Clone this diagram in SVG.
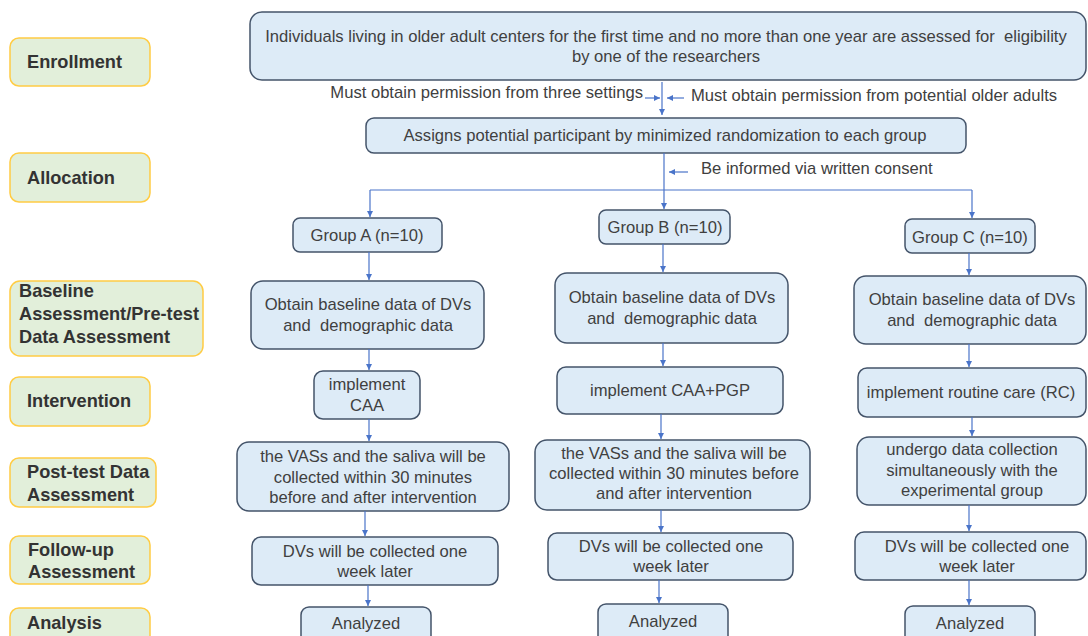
<svg xmlns="http://www.w3.org/2000/svg" width="1088" height="636" viewBox="0 0 1088 636">
<defs>
<style>
.lab rect{fill:#E2EFDA;stroke:#FFCC44;stroke-width:1.5}
.lab text{font-family:"Liberation Sans",Arial,sans-serif;font-weight:bold;font-size:18.2px;fill:#333333}
.node rect{fill:#DDEBF7;stroke:#44546A;stroke-width:1.5}
text{font-family:"Liberation Sans",Arial,sans-serif;font-size:16.6px;fill:#404040;white-space:pre}
.node text{text-anchor:middle}
.conn path{fill:none;stroke:#4A74C9;stroke-width:1.2}
</style>
<marker id="ah" markerUnits="userSpaceOnUse" markerWidth="7" markerHeight="6" refX="6" refY="3" orient="auto">
<path d="M0,0 L6,3 L0,6 z" fill="#4A74C9"/>
</marker>
</defs>
<rect width="1088" height="636" fill="#FFFFFF"/>

<g id="label-enrollment" class="lab"><rect x="10" y="38" width="140" height="48" rx="9"/><text x="27" y="68">Enrollment</text></g>
<g id="label-allocation" class="lab"><rect x="10" y="153" width="140" height="49" rx="9"/><text x="27" y="184">Allocation</text></g>
<g id="label-baseline" class="lab"><rect x="10" y="281" width="193" height="75" rx="10"/><text x="19" y="297">Baseline</text><text x="19" y="320">Assessment/Pre-test</text><text x="19" y="343">Data Assessment</text></g>
<g id="label-intervention" class="lab"><rect x="10" y="377" width="140" height="49" rx="9"/><text x="27" y="407">Intervention</text></g>
<g id="label-posttest" class="lab"><rect x="10" y="458" width="146" height="49" rx="9"/><text x="27" y="478">Post-test Data</text><text x="27" y="501">Assessment</text></g>
<g id="label-followup" class="lab"><rect x="10" y="536" width="140" height="48" rx="9"/><text x="28" y="556">Follow-up</text><text x="28" y="578">Assessment</text></g>
<g id="label-analysis" class="lab"><rect x="10" y="608" width="140" height="40" rx="9"/><text x="27" y="629">Analysis</text></g>

<g id="n-enroll" class="node"><rect x="250" y="12" width="836" height="68" rx="12"/><text x="666" y="42">Individuals living in older adult centers for the first time and no more than one year are assessed for  eligibility</text><text x="666" y="62">by one of the researchers</text></g>
<g id="n-assign" class="node"><rect x="366" y="118" width="600" height="35" rx="8"/><text x="665" y="141">Assigns potential participant by minimized randomization to each group</text></g>

<g id="n-groupA" class="node"><rect x="293" y="218" width="149" height="34" rx="7"/><text x="367" y="241">Group A (n=10)</text></g>
<g id="n-groupB" class="node"><rect x="599" y="210" width="131" height="34" rx="7"/><text x="665" y="233">Group B (n=10)</text></g>
<g id="n-groupC" class="node"><rect x="905" y="219" width="130" height="34" rx="7"/><text x="970" y="243">Group C (n=10)</text></g>

<g id="n-baseA" class="node"><rect x="251" y="281" width="233" height="68" rx="12"/><text x="368" y="310">Obtain baseline data of DVs</text><text x="368" y="331">and  demographic data</text></g>
<g id="n-baseB" class="node"><rect x="555" y="273" width="233" height="70" rx="12"/><text x="672" y="303">Obtain baseline data of DVs</text><text x="672" y="324">and  demographic data</text></g>
<g id="n-baseC" class="node"><rect x="854" y="276" width="232" height="68" rx="12"/><text x="972" y="305">Obtain baseline data of DVs</text><text x="972" y="326">and  demographic data</text></g>

<g id="n-intA" class="node"><rect x="314" y="371" width="106" height="48" rx="9"/><text x="367" y="390">implement</text><text x="367" y="411">CAA</text></g>
<g id="n-intB" class="node"><rect x="557" y="367" width="226" height="47" rx="9"/><text x="670" y="396">implement CAA+PGP</text></g>
<g id="n-intC" class="node"><rect x="858" y="368" width="228" height="49" rx="9"/><text x="971" y="398">implement routine care (RC)</text></g>

<g id="n-postA" class="node"><rect x="237" y="442" width="272" height="69" rx="12"/><text x="373" y="462">the VASs and the saliva will be</text><text x="373" y="483">collected within 30 minutes</text><text x="373" y="503">before and after intervention</text></g>
<g id="n-postB" class="node"><rect x="535" y="440" width="275" height="70" rx="12"/><text x="674" y="459">the VASs and the saliva will be</text><text x="674" y="479">collected within 30 minutes before</text><text x="674" y="499">and after intervention</text></g>
<g id="n-postC" class="node"><rect x="857" y="437" width="229" height="68" rx="12"/><text x="972" y="455">undergo data collection</text><text x="972" y="476">simultaneously with the</text><text x="972" y="496">experimental group</text></g>

<g id="n-fuA" class="node"><rect x="252" y="537" width="246" height="48" rx="9"/><text x="375" y="557">DVs will be collected one</text><text x="375" y="577">week later</text></g>
<g id="n-fuB" class="node"><rect x="548" y="533" width="245" height="47" rx="9"/><text x="671" y="552">DVs will be collected one</text><text x="671" y="572">week later</text></g>
<g id="n-fuC" class="node"><rect x="855" y="532" width="231" height="48" rx="9"/><text x="977" y="552">DVs will be collected one</text><text x="977" y="572">week later</text></g>

<g id="n-anA" class="node"><rect x="301" y="607" width="130" height="40" rx="8"/><text x="366" y="629">Analyzed</text></g>
<g id="n-anB" class="node"><rect x="598" y="604" width="130" height="40" rx="8"/><text x="663" y="627">Analyzed</text></g>
<g id="n-anC" class="node"><rect x="905" y="606" width="130" height="40" rx="8"/><text x="970" y="629">Analyzed</text></g>

<g id="connector-labels">
<text x="643" y="98" text-anchor="end">Must obtain permission from three settings</text>
<text x="691" y="101">Must obtain permission from potential older adults</text>
<text x="701" y="174">Be informed via written consent</text>
</g>

<g id="connectors" class="conn">
<path d="M662,82 V115" marker-end="url(#ah)"/>
<path d="M645,98 H660" marker-end="url(#ah)"/>
<path d="M684,98 H667" marker-end="url(#ah)"/>
<path d="M664,153 V190"/>
<path d="M688,172 H669" marker-end="url(#ah)"/>
<path d="M370,190 H972"/>
<path d="M370,190 V217" marker-end="url(#ah)"/>
<path d="M664,190 V209" marker-end="url(#ah)"/>
<path d="M972,190 V218" marker-end="url(#ah)"/>
<path d="M369,252 V280" marker-end="url(#ah)"/>
<path d="M369,349 V370" marker-end="url(#ah)"/>
<path d="M369,419 V441" marker-end="url(#ah)"/>
<path d="M365,511 V536" marker-end="url(#ah)"/>
<path d="M368,585 V606" marker-end="url(#ah)"/>
<path d="M663,244 V272" marker-end="url(#ah)"/>
<path d="M663,343 V366" marker-end="url(#ah)"/>
<path d="M661,414 V439" marker-end="url(#ah)"/>
<path d="M661,510 V532" marker-end="url(#ah)"/>
<path d="M659,580 V603" marker-end="url(#ah)"/>
<path d="M969,253 V275" marker-end="url(#ah)"/>
<path d="M969,344 V367" marker-end="url(#ah)"/>
<path d="M972,417 V436" marker-end="url(#ah)"/>
<path d="M969,505 V531" marker-end="url(#ah)"/>
<path d="M969,580 V605" marker-end="url(#ah)"/>
</g>
</svg>
